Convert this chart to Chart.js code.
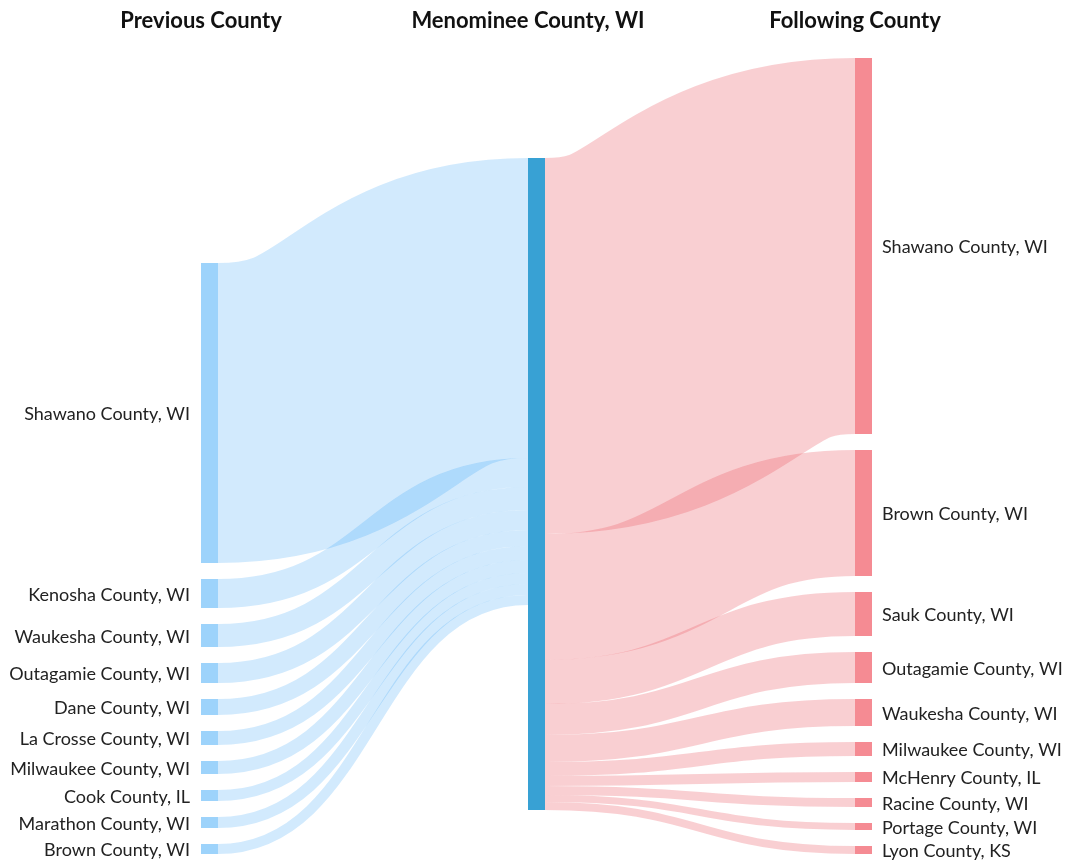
<!DOCTYPE html>
<html>
<head>
<meta charset="utf-8">
<script src="https://cdn.jsdelivr.net/npm/chart.js@4.4.1/dist/chart.umd.min.js"></script>
<style>
  html, body { margin: 0; padding: 0; background: #fff; }
  #wrap { width: 1065px; height: 865px; position: relative; }
</style>
</head>
<body>
<div id="wrap"><canvas id="sankey"></canvas></div>
<script>
const columnTitles = ["Previous County", "Menominee County, WI", "Following County"];

const previousCounties = [
  "Shawano County, WI", "Kenosha County, WI", "Waukesha County, WI", "Outagamie County, WI",
  "Dane County, WI", "La Crosse County, WI", "Milwaukee County, WI", "Cook County, IL",
  "Marathon County, WI", "Brown County, WI"
];
const previousValues = [300, 29, 23, 20, 16, 14, 13, 11, 11, 10];

const followingCounties = [
  "Shawano County, WI", "Brown County, WI", "Sauk County, WI", "Outagamie County, WI",
  "Waukesha County, WI", "Milwaukee County, WI", "McHenry County, IL", "Racine County, WI",
  "Portage County, WI", "Lyon County, KS"
];
const followingValues = [376, 126, 44, 31, 27, 14, 10, 9, 7, 8];

// layout settings
const nodeWidth = 17;
const nodeGap = 16;
const centerTop = 100;

const colors = {
  leftNode: '#9dd3fb',
  leftLink: 'rgba(30, 150, 245, 0.2)',
  centerNode: '#38a1d4',
  rightLink: 'rgba(236, 90, 100, 0.29)',
  rightNode: '#f58b93'
};

const sum = arr => arr.reduce((a, b) => a + b, 0);
const inTotal = sum(previousValues);
const outTotal = sum(followingValues);
const leftSpan = inTotal + nodeGap * (previousValues.length - 1);
const rightSpan = outTotal + nodeGap * (followingValues.length - 1);
const yMax = Math.max(leftSpan, rightSpan);

function stack(values, start) {
  let y = start;
  return values.map(v => {
    const node = { y0: y, y1: y + v };
    y += v + nodeGap;
    return node;
  });
}

const leftNodes = stack(previousValues, yMax - leftSpan);
const rightNodes = stack(followingValues, yMax - rightSpan);
const centerNode = { y0: centerTop, y1: centerTop + Math.max(inTotal, outTotal) };

function drawLink(ctx, x, y, xa, ya0, xb, yb0, value) {
  const h = y.getPixelForValue(value) - y.getPixelForValue(0);
  const ys = y.getPixelForValue(ya0 + value / 2);
  const yt = y.getPixelForValue(yb0 + value / 2);
  const xm = (xa + xb) / 2;
  ctx.lineWidth = h;
  ctx.beginPath();
  ctx.moveTo(xa, ys);
  ctx.bezierCurveTo(xm, ys, xm, yt, xb, yt);
  ctx.stroke();
}

function drawNode(ctx, x, y, col, node, color) {
  const px = x.getPixelForValue(col);
  const top = y.getPixelForValue(node.y0);
  const bottom = y.getPixelForValue(node.y1);
  ctx.fillStyle = color;
  ctx.fillRect(px, top, nodeWidth, bottom - top);
}

const sankeyPlugin = {
  id: 'sankey',
  afterDraw(chart) {
    const { ctx, scales: { x, y } } = chart;
    ctx.save();
    ctx.lineCap = 'butt';

    // links into the center county
    ctx.strokeStyle = colors.leftLink;
    let offset = centerNode.y0;
    previousValues.forEach((v, i) => {
      drawLink(ctx, x, y, x.getPixelForValue(0) + nodeWidth, leftNodes[i].y0,
        x.getPixelForValue(1), offset, v);
      offset += v;
    });

    // links out of the center county
    ctx.strokeStyle = colors.rightLink;
    offset = centerNode.y0;
    followingValues.forEach((v, i) => {
      drawLink(ctx, x, y, x.getPixelForValue(1) + nodeWidth, offset,
        x.getPixelForValue(2), rightNodes[i].y0, v);
      offset += v;
    });

    // nodes
    leftNodes.forEach(n => drawNode(ctx, x, y, 0, n, colors.leftNode));
    drawNode(ctx, x, y, 1, centerNode, colors.centerNode);
    rightNodes.forEach(n => drawNode(ctx, x, y, 2, n, colors.rightNode));

    // labels
    ctx.font = '18px Lato';
    ctx.fillStyle = '#222';
    ctx.textBaseline = 'middle';
    ctx.textAlign = 'right';
    leftNodes.forEach((n, i) => {
      ctx.fillText(previousCounties[i], x.getPixelForValue(0) - 11,
        y.getPixelForValue((n.y0 + n.y1) / 2) + 1.5);
    });
    ctx.textAlign = 'left';
    rightNodes.forEach((n, i) => {
      ctx.fillText(followingCounties[i], x.getPixelForValue(2) + nodeWidth + 10,
        y.getPixelForValue((n.y0 + n.y1) / 2) + 1.5);
    });

    // column titles
    ctx.font = 'bold 22px Lato';
    ctx.fillStyle = '#111';
    ctx.textAlign = 'center';
    columnTitles.forEach((t, i) => ctx.fillText(t, x.getPixelForValue(i), 21));
    ctx.restore();
  }
};

new Chart(document.getElementById('sankey'), {
  type: 'scatter',
  data: { datasets: [] },
  options: {
    responsive: true,
    maintainAspectRatio: false,
    animation: false,
    layout: { padding: { left: 201, right: 210, top: 58, bottom: 11 } },
    scales: {
      x: { type: 'linear', min: 0, max: 2, display: false },
      y: { type: 'linear', min: 0, max: yMax, reverse: true, display: false }
    },
    plugins: { legend: { display: false }, tooltip: { enabled: false } }
  },
  plugins: [sankeyPlugin]
});
</script>
</body>
</html>
